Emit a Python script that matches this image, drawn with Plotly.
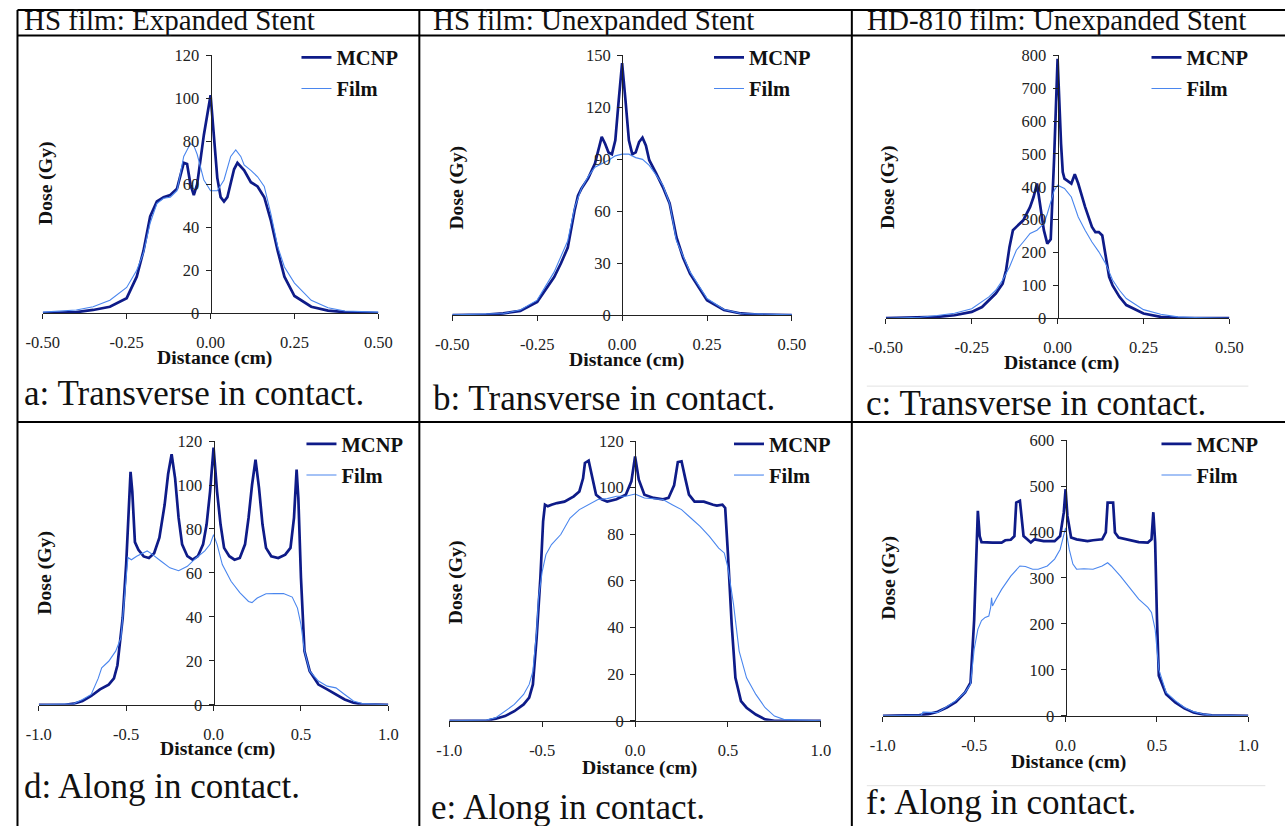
import plotly.graph_objects as go

W, H = 1285, 826
# observed placement of the page in the captured picture: picture = offset + scale * figure pixel
SX, SY = 0.977, 0.978
OXo, OYo = 17.2, 8.5

# ---------------- data ----------------
# Panel a: HS film, expanded stent, transverse
a_mcnp_x = [-0.5, -0.4, -0.35, -0.3, -0.25, -0.22, -0.2, -0.18, -0.16, -0.14, -0.12, -0.1, -0.08, -0.07, -0.06, -0.05,
            -0.04, -0.02, 0.0, 0.01, 0.02, 0.03, 0.04, 0.05, 0.06, 0.07, 0.08, 0.1, 0.12, 0.14, 0.16, 0.18, 0.2,
            0.22, 0.25, 0.3, 0.35, 0.4, 0.5]
a_mcnp_y = [0, 0.5, 1.5, 3, 7, 17, 29, 45, 52, 54, 55, 58, 70, 69.5, 60, 55,
            60, 83, 101.5, 82, 63, 54, 52, 54, 60, 67, 70, 66.5, 61, 59, 54, 43, 29,
            17, 8, 3, 1.2, 0.5, 0]
a_film_x = [-0.5, -0.4, -0.35, -0.3, -0.25, -0.22, -0.2, -0.18, -0.16, -0.14, -0.12, -0.1, -0.08, -0.06, -0.05, -0.04,
            -0.02, 0.0, 0.02, 0.04, 0.06, 0.075, 0.09, 0.1, 0.12, 0.14, 0.16, 0.18, 0.2, 0.22, 0.25, 0.3, 0.35,
            0.4, 0.5]
a_film_y = [0.5, 1.5, 3, 6, 12, 20, 28, 42, 51, 53.5, 54, 57, 73, 79, 78, 74,
            62, 57, 57, 62, 73, 76, 73, 69, 66.5, 63.5, 59, 46, 31, 21.5, 14, 6, 2.5,
            1, 0.5]

# Panel b: HS film, unexpanded stent, transverse
b_mcnp_x = [-0.5, -0.4, -0.35, -0.3, -0.25, -0.2, -0.18, -0.16, -0.14, -0.13, -0.12, -0.1, -0.08, -0.06, -0.05, -0.04,
            -0.03, -0.02, -0.01, 0.0, 0.01, 0.02, 0.03, 0.04, 0.05, 0.06, 0.07, 0.08, 0.1, 0.12, 0.14, 0.16, 0.18,
            0.2, 0.25, 0.3, 0.35, 0.4, 0.5]
b_mcnp_y = [0, 0.3, 1, 2.5, 7.7, 22, 30, 39, 60.5, 69, 73, 79, 87.5, 103, 99, 94,
            93, 101, 124, 145.5, 124, 101, 93, 94, 100, 102.5, 98, 89.5, 82, 74, 64.5, 45, 33,
            24, 8.7, 3, 1, 0.4, 0]
b_film_x = [-0.5, -0.35, -0.3, -0.25, -0.2, -0.18, -0.16, -0.14, -0.12, -0.1, -0.08, -0.06, -0.04, -0.02, 0.0, 0.02,
            0.04, 0.06, 0.08, 0.1, 0.12, 0.14, 0.16, 0.18, 0.2, 0.25, 0.3, 0.35, 0.5]
b_film_y = [0.2, 1, 3, 8.7, 25, 34, 43, 62, 73, 80, 85.5, 87.5, 89.5, 92, 93, 93,
            91, 90, 86.5, 81, 75, 64.5, 43, 34, 25, 9.6, 3.3, 1, 0.2]

# Panel c: HD-810 film, unexpanded stent, transverse
c_mcnp_x = [-0.5, -0.4, -0.35, -0.3, -0.25, -0.22, -0.2, -0.18, -0.16, -0.15, -0.14, -0.13, -0.12, -0.1, -0.08, -0.07,
            -0.06, -0.05, -0.04, -0.03, -0.02, -0.01, 0.0, 0.01, 0.015, 0.02, 0.04, 0.05, 0.06, 0.08, 0.1, 0.11,
            0.12, 0.13, 0.14, 0.15, 0.16, 0.18, 0.2, 0.25, 0.3, 0.35, 0.4, 0.5]
c_mcnp_y = [0, 2, 4, 9, 19, 34, 55, 75, 105, 146, 217, 268, 278, 298, 339, 369,
            410, 339, 268, 227, 240, 491, 790, 531, 445, 425, 410, 438, 410, 339, 278, 262,
            262, 252, 186, 126, 100, 65, 40, 14, 4, 1, 0.5, 0]
c_film_x = [-0.5, -0.4, -0.35, -0.3, -0.25, -0.2, -0.18, -0.16, -0.14, -0.12, -0.1, -0.08, -0.06, -0.04, -0.03, -0.02,
            -0.01, 0.0, 0.01, 0.02, 0.04, 0.06, 0.08, 0.1, 0.12, 0.14, 0.16, 0.18, 0.2, 0.25, 0.3, 0.35,
            0.4, 0.5]
c_film_y = [0, 3, 8, 15, 29, 65, 85, 116, 156, 207, 232, 258, 268, 288, 318, 354,
            389, 405, 400, 395, 369, 308, 268, 232, 202, 166, 116, 85, 60, 26, 12, 4,
            2, 0]

# Panel d: HS film, expanded stent, along
d_mcnp_x = [-1.0, -0.85, -0.8, -0.75, -0.7, -0.65, -0.6, -0.57, -0.55, -0.52, -0.5, -0.49, -0.48, -0.475, -0.465, -0.45,
            -0.43, -0.4, -0.37, -0.34, -0.31, -0.28, -0.26, -0.24, -0.22, -0.2, -0.18, -0.15, -0.12, -0.09, -0.06,
            -0.04, -0.02, 0.0, 0.02, 0.04, 0.06, 0.09, 0.12, 0.15, 0.18, 0.2, 0.22, 0.24, 0.26, 0.28, 0.3, 0.33,
            0.37, 0.41, 0.44, 0.46, 0.475, 0.485, 0.5, 0.52, 0.55, 0.6, 0.65, 0.7, 0.75, 0.8, 0.85, 1.0]
d_mcnp_y = [0, 0, 0.5, 1.7, 4, 7, 9.2, 12, 18, 39.5, 64, 83, 101, 106, 97, 74,
            70.5, 67.5, 66.8, 69, 76, 91, 105, 114, 103, 85, 73, 67.6, 66, 67.6, 73,
            82, 97, 117, 97, 82, 71.4, 67.6, 66, 66.8, 73, 85, 100, 111.5, 98.6, 82, 71.4, 67.6,
            66.8, 68.3, 71.4, 85, 107, 94, 57.7, 24.4, 15.3, 9.2, 7, 4.7, 2.4, 0.9, 0.2, 0]
d_film_x = [-1.0, -0.8, -0.75, -0.7, -0.66, -0.64, -0.6, -0.56, -0.53, -0.51, -0.49, -0.47, -0.44, -0.38, -0.36, -0.3,
            -0.25, -0.2, -0.15, -0.1, -0.05, -0.02, 0.0, 0.02, 0.05, 0.1, 0.15, 0.2, 0.22, 0.25, 0.3, 0.35,
            0.4, 0.45, 0.48, 0.5, 0.52, 0.55, 0.6, 0.65, 0.7, 0.75, 0.8, 0.85, 1.0]
d_film_y = [0, 0.5, 2.4, 4.7, 12, 16.8, 19.8, 24.4, 30.5, 50, 67, 66, 67.6, 70, 69, 65.3,
            62.3, 61, 63, 66.8, 70, 73, 77.4, 73, 63.8, 56.2, 51, 47, 46.5, 48.6, 50.5, 50.6,
            50.6, 49, 44, 36.5, 24.4, 15.3, 10.8, 8.5, 7.7, 4.7, 1.7, 0.6, 0]

# Panel e: HS film, unexpanded stent, along
e_mcnp_x = [-1.0, -0.8, -0.75, -0.7, -0.65, -0.6, -0.57, -0.55, -0.53, -0.51, -0.495, -0.485, -0.47, -0.45, -0.42, -0.38,
            -0.33, -0.3, -0.28, -0.27, -0.25, -0.23, -0.21, -0.18, -0.15, -0.1, -0.05, -0.02, 0.0, 0.02, 0.05,
            0.1, 0.15, 0.18, 0.21, 0.23, 0.25, 0.27, 0.29, 0.32, 0.37, 0.42, 0.44, 0.47, 0.485, 0.5, 0.52, 0.54,
            0.57, 0.6, 0.65, 0.7, 0.75, 1.0]
e_mcnp_y = [0, 0, 0.9, 2, 4.1, 7, 9.9, 15.6, 35.6, 61, 85.6, 92.7, 92, 92.7, 93.4, 94,
            96.3, 98.4, 104, 110.6, 111.6, 104, 97, 95, 94, 95, 97, 102.7, 113.4, 103.4, 97,
            95.6, 95, 95.6, 101, 111, 111.3, 104, 97, 94, 94, 92.7, 92.3, 92.7, 91.3, 71.3, 41.3, 18.4,
            8.4, 5.6, 2.7, 0.6, 0, 0]
e_film_x = [-1.0, -0.8, -0.75, -0.7, -0.65, -0.6, -0.57, -0.55, -0.53, -0.52, -0.5, -0.48, -0.45, -0.4, -0.35, -0.3,
            -0.25, -0.2, -0.15, -0.1, -0.05, 0.0, 0.05, 0.1, 0.15, 0.2, 0.25, 0.3, 0.35, 0.4, 0.45, 0.48,
            0.5, 0.53, 0.56, 0.6, 0.65, 0.7, 0.75, 0.8, 1.0]
e_film_y = [0, 0.3, 1.3, 4.1, 7, 11.3, 15.6, 21.3, 38.4, 52.7, 64, 71.3, 75.6, 79.9, 87, 90.6,
            92.7, 94.9, 95.3, 96.3, 96.3, 97.3, 95.6, 95.1, 94.9, 92.7, 90.6, 87, 83.4, 79.1, 74.1, 72,
            65.6, 49.9, 29.9, 18.4, 11.3, 5.6, 2, 0.6, 0]

# Panel f: HD-810 film, unexpanded stent, along
f_mcnp_x = [-1.0, -0.8, -0.75, -0.7, -0.65, -0.6, -0.55, -0.52, -0.5, -0.49, -0.48, -0.47, -0.46, -0.4, -0.35, -0.33,
            -0.3, -0.28, -0.27, -0.25, -0.23, -0.21, -0.19, -0.17, -0.12, -0.06, -0.03, -0.01, 0.0, 0.01, 0.03,
            0.06, 0.12, 0.15, 0.2, 0.22, 0.23, 0.26, 0.27, 0.29, 0.33, 0.4, 0.45, 0.47, 0.48, 0.49, 0.5, 0.51,
            0.55, 0.6, 0.65, 0.7, 0.75, 0.8, 1.0]
f_mcnp_y = [0, 1.4, 3.6, 8.7, 18, 30, 51, 72, 210, 355, 446, 391, 378, 377, 377, 382,
            383, 391, 464, 468, 391, 384, 377, 384, 380, 380, 391, 442, 493, 435, 388,
            384, 380, 382, 384, 399, 464, 464, 399, 388, 384, 378, 377, 384, 443, 377, 210, 87,
            47, 29, 16, 7, 3, 0.7, 0]
f_film_x = [-1.0, -0.8, -0.79, -0.78, -0.7, -0.65, -0.6, -0.55, -0.52, -0.5, -0.48, -0.46, -0.44, -0.42, -0.41, -0.405,
            -0.4, -0.38, -0.35, -0.3, -0.25, -0.22, -0.18, -0.15, -0.1, -0.06, -0.03, 0.0, 0.02, 0.04, 0.06,
            0.1, 0.15, 0.2, 0.23, 0.25, 0.3, 0.35, 0.4, 0.45, 0.47, 0.49, 0.51, 0.55, 0.6, 0.65, 0.7, 0.75,
            0.8, 1.0]
f_film_y = [0, 1.5, 1.5, 8, 7, 20, 33, 51, 69, 145, 188, 207, 214, 217, 236, 257,
            239, 254, 275, 304, 326, 325, 319, 319, 326, 341, 362, 409, 362, 330, 319,
            320, 319, 326, 333, 326, 304, 279, 254, 236, 225, 188, 101, 51, 33, 18, 9, 4,
            1.4, 0]

headers = ["HS film: Expanded Stent", "HS film: Unexpanded Stent", "HD-810 film: Unexpanded Stent"]
captions = ["a: Transverse in contact.", "b: Transverse in contact.", "c: Transverse in contact.",
            "d: Along in contact.", "e: Along in contact.", "f: Along in contact."]
series_names = ["MCNP", "Film"]
x_title = "Distance (cm)"
y_title = "Dose (Gy)"

transverse_ticks = [-0.5, -0.25, 0.0, 0.25, 0.5]
transverse_labels = ["-0.50", "-0.25", "0.00", "0.25", "0.50"]
along_ticks = [-1.0, -0.5, 0.0, 0.5, 1.0]
along_labels = ["-1.0", "-0.5", "0.0", "0.5", "1.0"]

panels = [
    (a_mcnp_x, a_mcnp_y, a_film_x, a_film_y),
    (b_mcnp_x, b_mcnp_y, b_film_x, b_film_y),
    (c_mcnp_x, c_mcnp_y, c_film_x, c_film_y),
    (d_mcnp_x, d_mcnp_y, d_film_x, d_film_y),
    (e_mcnp_x, e_mcnp_y, e_film_x, e_film_y),
    (f_mcnp_x, f_mcnp_y, f_film_x, f_film_y),
]
y_max = [120, 150, 800, 120, 120, 600]
y_step = [20, 30, 100, 20, 20, 100]
x_lim = [0.5, 0.5, 0.5, 1.0, 1.0, 1.0]

# ---------------- layout (target picture pixels) ----------------
plot_px = [  # x0, x1, ytop, ybottom
    (43, 379, 55, 313),
    (453, 793, 55, 315),
    (887, 1231, 55, 318),
    (39, 389, 441, 705),
    (450, 822, 441, 721),
    (884, 1250, 440, 716),
]
legend_px = [(297, 37), (710, 37), (1148, 37), (302, 424), (730, 424), (1158, 424)]
ytitle_px = [(46, 183), (457, 187), (889, 187), (45, 573), (457, 582), (890, 578)]
xtitle_px = [(215, 357), (627, 359), (1063, 362), (218, 749), (640, 768), (1070, 762)]
caption_px = [(22, 393), (432, 398), (865, 403), (22, 787), (430, 808), (865, 803)]
header_px = [(22, 20), (432, 20), (866, 20)]

MCNP_C = "#0e1b88"
FILM_C = "#4a86ee"
SERIF = "Liberation Serif"


def px(x):
    return max((x - OXo) / SX, 0.5) / W


def py(y):
    return 1 - max((y - OYo) / SY, 1.0) / H


fig = go.Figure()
layout = dict(width=W, height=H, margin=dict(l=0, r=0, t=0, b=0),
              paper_bgcolor="white", plot_bgcolor="rgba(0,0,0,0)",
              font=dict(family=SERIF, color="#1a1a1a"), annotations=[], shapes=[])

for i, (mx, my, fx, fy) in enumerate(panels):
    k = "" if i == 0 else str(i + 1)
    leg = "legend" + k
    fig.add_trace(go.Scatter(x=mx, y=my, mode="lines", name=series_names[0],
                             line=dict(color=MCNP_C, width=2.7), xaxis="x" + k, yaxis="y" + k,
                             legend=leg, legendgroup="m" + k))
    fig.add_trace(go.Scatter(x=fx, y=fy, mode="lines", name=series_names[1],
                             line=dict(color=FILM_C, width=1.1), xaxis="x" + k, yaxis="y" + k,
                             legend=leg, legendgroup="f" + k))
    x0, x1, yt, yb = plot_px[i]
    common = dict(showline=True, linecolor="#222", linewidth=1, ticks="outside", ticklen=5,
                  tickcolor="#222", tickwidth=1, showgrid=False, zeroline=False,
                  tickfont=dict(family=SERIF, size=16.5, color="#222"))
    tv, tt = (transverse_ticks, transverse_labels) if i < 3 else (along_ticks, along_labels)
    layout["xaxis" + k] = dict(domain=[px(x0), px(x1)], anchor="y" + k,
                               range=[-x_lim[i], x_lim[i]], tickmode="array", tickvals=tv, ticktext=tt,
                               ticklabelstandoff=9, **common)
    layout["yaxis" + k] = dict(domain=[py(yb), py(yt)], anchor="free", position=px((x0 + x1) / 2),
                               range=[0, y_max[i]], dtick=y_step[i], tick0=0,
                               ticklabelstandoff=3, **common)
    lx, ly = legend_px[i]
    layout[leg] = dict(x=px(lx), y=py(ly), xanchor="left", yanchor="top", bgcolor="rgba(0,0,0,0)",
                       font=dict(family=SERIF, size=20.5, color="#111", weight="bold"),
                       tracegroupgap=1.5, itemwidth=30)
    tx, ty = ytitle_px[i]
    layout["annotations"].append(dict(text=y_title, x=px(tx), y=py(ty), xref="paper", yref="paper",
                                      xanchor="center", yanchor="middle",
                                      textangle=-90, showarrow=False,
                                      font=dict(family=SERIF, size=19.7, color="#111", weight="bold")))
    tx, ty = xtitle_px[i]
    layout["annotations"].append(dict(text=x_title, x=px(tx), y=py(ty), xref="paper", yref="paper",
                                      xanchor="center", yanchor="middle", showarrow=False,
                                      font=dict(family=SERIF, size=19.7, color="#111", weight="bold")))
    cx, cy = caption_px[i]
    layout["annotations"].append(dict(text=captions[i], x=px(cx), y=py(cy), xref="paper", yref="paper",
                                      xanchor="left", yanchor="middle", showarrow=False,
                                      font=dict(family=SERIF, size=35, color="#111")))

for j, h in enumerate(headers):
    hx, hy = header_px[j]
    layout["annotations"].append(dict(text=h, x=px(hx), y=py(hy), xref="paper", yref="paper",
                                      xanchor="left", yanchor="middle", showarrow=False,
                                      font=dict(family=SERIF, size=29, color="#111")))


def hline(y, x0, x1, w=2, c="black"):
    layout["shapes"].append(dict(type="line", xref="paper", yref="paper", x0=px(x0), x1=px(x1),
                                 y0=py(y), y1=py(y), line=dict(color=c, width=w)))


def vline(x, y0, y1, w=2, c="black"):
    layout["shapes"].append(dict(type="line", xref="paper", yref="paper", x0=px(x), x1=px(x),
                                 y0=py(y0), y1=py(y1), line=dict(color=c, width=w)))


hline(6, 9, W + 20)
hline(35, 9, W + 20)
hline(422, 9, W + 20)
vline(9, 6, H + 20)
vline(420, 6, H + 20)
vline(853, 6, H + 20)
hline(386, 868, 1250, 1, "#e2e2e2")
hline(786, 868, 1267, 1, "#e2e2e2")

fig.update_layout(**layout)
fig.write_html("out.html")
